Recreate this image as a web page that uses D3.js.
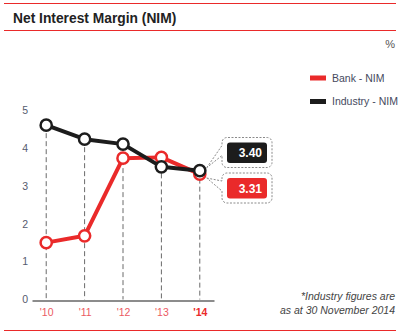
<!DOCTYPE html>
<html>
<head>
<meta charset="utf-8">
<script src="https://cdn.jsdelivr.net/npm/d3@7"></script>
<style>
  html, body { margin: 0; padding: 0; background: #fff; }
  svg { display: block; font-family: "Liberation Sans", Arial, sans-serif; }
</style>
</head>
<body>
<svg id="chart" width="400" height="335"></svg>
<script>
// Net interest margin, bank vs. industry (%)
const years = ["'10", "'11", "'12", "'13", "'14"];
const bankNIM = [1.50, 1.68, 3.73, 3.75, 3.31];
const industryNIM = [4.60, 4.23, 4.10, 3.50, 3.40];
const yTicks = [0, 1, 2, 3, 4, 5];

const RED = "#ea2a2a";
const BLACK = "#1c1c1c";

const svg = d3.select("#chart");

// Frame: red rules and title
svg.append("line").attr("x1", 4).attr("x2", 396).attr("y1", 3.5).attr("y2", 3.5)
  .attr("stroke", RED).attr("stroke-width", 1.2);
svg.append("line").attr("x1", 4).attr("x2", 396).attr("y1", 30.5).attr("y2", 30.5)
  .attr("stroke", RED).attr("stroke-width", 1.2);
svg.append("line").attr("x1", 4).attr("x2", 396).attr("y1", 330.5).attr("y2", 330.5)
  .attr("stroke", RED).attr("stroke-width", 1.2);
svg.append("text").attr("x", 13).attr("y", 22.5)
  .attr("font-size", 13.8).attr("font-weight", "bold").attr("fill", "#222")
  .text("Net Interest Margin (NIM)");
svg.append("text").attr("x", 395).attr("y", 48).attr("text-anchor", "end")
  .attr("font-size", 11).attr("fill", "#555").text("%");

// Scales
const x = d3.scalePoint().domain(years).range([32, 214]).padding(0.37);
const y = d3.scaleLinear().domain([0, 5]).range([299.5, 110]);

// Dashed drop lines from the higher point of each year
const g = svg.append("g");
g.selectAll(".drop").data(years).join("line")
  .attr("x1", d => x(d)).attr("x2", d => x(d))
  .attr("y1", (d, i) => y(Math.max(bankNIM[i], industryNIM[i])))
  .attr("y2", y(0))
  .attr("stroke", "#6a6a6a").attr("stroke-width", 1).attr("stroke-dasharray", "5,3");

// Axes
const xAxis = svg.append("g").attr("transform", `translate(0,${y(0) + 1})`)
  .call(d3.axisBottom(x).tickSize(0).tickSizeOuter(0).tickPadding(8));
xAxis.select(".domain").attr("stroke", "#666").attr("stroke-width", 1.5);
xAxis.selectAll(".tick text")
  .attr("font-family", "Liberation Sans, Arial, sans-serif")
  .attr("font-size", 10.5)
  .attr("fill", (d, i) => i === years.length - 1 ? RED : "#ec5a62")
  .attr("font-weight", (d, i) => i === years.length - 1 ? "bold" : "normal");

const yAxis = svg.append("g").attr("transform", "translate(28,0)")
  .call(d3.axisLeft(y).tickValues(yTicks).tickSize(0).tickPadding(0).tickFormat(d3.format("d")));
yAxis.select(".domain").remove();
yAxis.selectAll(".tick text")
  .attr("font-family", "Liberation Sans, Arial, sans-serif")
  .attr("font-size", 10.5).attr("fill", "#555b6e");

// Series
const line = d3.line().x((d, i) => x(years[i])).y(d => y(d));
const series = [
  { name: "Bank - NIM", values: bankNIM, color: RED },
  { name: "Industry - NIM", values: industryNIM, color: BLACK }
];
series.forEach(s => {
  svg.append("path").datum(s.values).attr("d", line)
    .attr("fill", "none").attr("stroke", s.color).attr("stroke-width", 4)
    .attr("stroke-linejoin", "round");
  svg.selectAll(null).data(s.values).join("circle")
    .attr("cx", (d, i) => x(years[i])).attr("cy", d => y(d)).attr("r", 5.6)
    .attr("fill", "#fff").attr("stroke", s.color).attr("stroke-width", 2.5);
});

// Legend
const legend = svg.append("g");
series.forEach((s, i) => {
  const ly = 78 + i * 23.5;
  legend.append("rect").attr("x", 310).attr("y", ly - 2.5).attr("width", 16).attr("height", 5)
    .attr("fill", s.color);
  legend.append("text").attr("x", 332).attr("y", ly + 3.5)
    .attr("font-size", 10.5).attr("fill", "#454a5e").text(s.name);
});

// Callouts for the latest values
const last = years.length - 1;
const callouts = [
  { value: industryNIM[last], color: BLACK, boxY: 142.5, tipY: y(industryNIM[last]) - 3 },
  { value: bankNIM[last], color: RED, boxY: 178, tipY: y(bankNIM[last]) + 4 }
];
callouts.forEach(c => {
  const bx = 222, bw = 50, by = c.boxY - 5, bh = 30, r = 5;
  const tipX = x(years[last]) + 7;
  const t1 = by + 8, t2 = by + 18;
  const p = d3.path();
  p.moveTo(tipX, c.tipY);
  p.lineTo(bx, t1);
  p.lineTo(bx, by + r);
  p.arcTo(bx, by, bx + r, by, r);
  p.lineTo(bx + bw - r, by);
  p.arcTo(bx + bw, by, bx + bw, by + r, r);
  p.lineTo(bx + bw, by + bh - r);
  p.arcTo(bx + bw, by + bh, bx + bw - r, by + bh, r);
  p.lineTo(bx + r, by + bh);
  p.arcTo(bx, by + bh, bx, by + bh - r, r);
  p.lineTo(bx, t2);
  p.closePath();
  svg.append("path").attr("d", p.toString())
    .attr("fill", "none").attr("stroke", "#8a8a8a").attr("stroke-width", 1)
    .attr("stroke-dasharray", "2,1.5");
  svg.append("rect").attr("x", 227).attr("y", c.boxY).attr("width", 40).attr("height", 20.5)
    .attr("rx", 3).attr("fill", c.color);
  svg.append("text").attr("x", 262).attr("y", c.boxY + 14.5).attr("text-anchor", "end")
    .attr("font-size", 12).attr("font-weight", "bold").attr("fill", "#fff")
    .text(c.value.toFixed(2));
});

// Footnote
const note = svg.append("text").attr("text-anchor", "end")
  .attr("font-size", 10.5).attr("font-style", "italic").attr("fill", "#444");
note.append("tspan").attr("x", 395).attr("y", 300).text("*Industry figures are");
note.append("tspan").attr("x", 395).attr("y", 313.5).text("as at 30 November 2014");
</script>
</body>
</html>
